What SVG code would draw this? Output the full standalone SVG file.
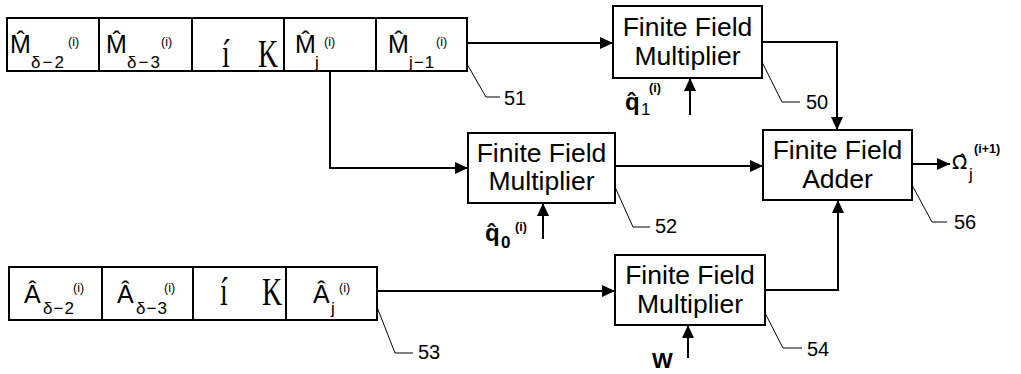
<svg xmlns="http://www.w3.org/2000/svg" width="1021" height="374" viewBox="0 0 1021 374">
<style>
.box{fill:#fff;stroke:#000;stroke-width:2}
.cell{fill:#fff;stroke:#000;stroke-width:2}
.wire{fill:none;stroke:#000;stroke-width:2}
.lead{fill:none;stroke:#000;stroke-width:1}
.t{font-family:"Liberation Sans",Arial,sans-serif;fill:#000}
.bt{font-family:"Liberation Sans",Arial,sans-serif;font-size:26.5px;text-anchor:middle;fill:#000}
.sym{font-family:"Liberation Sans",Arial,sans-serif;font-size:25px;fill:#000}
.sub{font-family:"Liberation Sans",Arial,sans-serif;font-size:17px;fill:#000}
.sup{font-family:"Liberation Sans",Arial,sans-serif;font-size:12.5px;fill:#000}
.ser{font-family:"Liberation Serif","Times New Roman",serif;font-size:40px;fill:#000}
.num{font-family:"Liberation Sans",Arial,sans-serif;font-size:20px;fill:#000}
</style>
<defs>
<marker id="ah" markerUnits="userSpaceOnUse" markerWidth="14" markerHeight="12" refX="13" refY="6" orient="auto">
<path d="M0,0 L13,6 L0,12 Z" fill="#000"/>
</marker>
</defs>

<g id="reg-M">
<rect class="cell" x="7" y="18" width="92" height="53"/>
<rect class="cell" x="99" y="18" width="93" height="53"/>
<rect class="cell" x="192" y="18" width="92" height="53"/>
<rect class="cell" x="284" y="18" width="92" height="53"/>
<rect class="cell" x="376" y="18" width="91" height="53"/>
<text class="sym" x="10" y="53">M̂</text><text class="sub" x="31" y="68" letter-spacing="2">δ−2</text><text class="sup" x="68" y="46">(i)</text>
<text class="sym" x="106" y="53">M̂</text><text class="sub" x="127" y="68" letter-spacing="2">δ−3</text><text class="sup" x="161" y="46">(i)</text>
<text class="ser" transform="translate(222,67) scale(0.7,1)">í</text>
<text class="ser" transform="translate(258,67) scale(0.7,1)">K</text>
<text class="sym" x="295" y="53">M̂</text><text class="sub" x="315" y="68">j</text><text class="sup" x="324" y="46">(i)</text>
<text class="sym" x="388" y="53">M̂</text><text class="sub" x="409" y="68" letter-spacing="1">j−1</text><text class="sup" x="436" y="46">(i)</text>
</g>

<g id="reg-A">
<rect class="cell" x="9" y="267" width="93" height="53"/>
<rect class="cell" x="102" y="267" width="91" height="53"/>
<rect class="cell" x="193" y="267" width="93" height="53"/>
<rect class="cell" x="286" y="267" width="91" height="53"/>
<text class="sym" x="24" y="303">Â</text><text class="sub" x="43" y="314" letter-spacing="1">δ−2</text><text class="sup" x="73" y="292">(i)</text>
<text class="sym" x="117" y="303">Â</text><text class="sub" x="136" y="314" letter-spacing="1">δ−3</text><text class="sup" x="164" y="292">(i)</text>
<text class="ser" transform="translate(220,305) scale(0.7,1)">í</text>
<text class="ser" transform="translate(262,305) scale(0.7,1)">K</text>
<text class="sym" x="313" y="303">Â</text><text class="sub" x="331" y="314">j</text><text class="sup" x="339" y="292">(i)</text>
</g>

<g id="mult50">
<rect class="box" x="613" y="6" width="149" height="72"/>
<text class="bt" x="687.5" y="36">Finite Field</text>
<text class="bt" x="687.5" y="65">Multiplier</text>
</g>

<g id="mult52">
<rect class="box" x="468" y="133" width="147" height="70"/>
<text class="bt" x="541.5" y="162">Finite Field</text>
<text class="bt" x="541.5" y="190">Multiplier</text>
</g>

<g id="adder56">
<rect class="box" x="763" y="130" width="149" height="70"/>
<text class="bt" x="837.5" y="159">Finite Field</text>
<text class="bt" x="837.5" y="188">Adder</text>
</g>

<g id="mult54">
<rect class="box" x="615" y="255" width="150" height="70"/>
<text class="bt" x="690" y="284">Finite Field</text>
<text class="bt" x="690" y="313">Multiplier</text>
</g>

<g id="connectors">
<path class="wire" d="M467,43 H613" marker-end="url(#ah)"/>
<path class="wire" d="M330,71 V168 H468" marker-end="url(#ah)"/>
<path class="wire" d="M762,42 H837 V130" marker-end="url(#ah)"/>
<path class="wire" d="M615,166 H763" marker-end="url(#ah)"/>
<path class="wire" d="M765,290 H838 V200" marker-end="url(#ah)"/>
<path class="wire" d="M377,291 H615" marker-end="url(#ah)"/>
<path class="wire" d="M690,115 V78" marker-end="url(#ah)"/>
<path class="wire" d="M543,239 V203" marker-end="url(#ah)"/>
<path class="wire" d="M688,358 V325" marker-end="url(#ah)"/>
<path class="wire" d="M912,164 H950" marker-end="url(#ah)"/>
<path class="lead" d="M467,64 L486,97 H500"/>
<path class="lead" d="M762,62 L782,102 H800"/>
<path class="lead" d="M615,187 L633,227 H650"/>
<path class="lead" d="M912,185 L932,222 H947"/>
<path class="lead" d="M377,307 L395,353 H413"/>
<path class="lead" d="M765,313 L783,348 H802"/>
</g>

<g id="labels">
<text class="num" x="504" y="105">51</text>
<text class="num" x="806" y="109">50</text>
<text class="num" x="655" y="233">52</text>
<text class="num" x="954" y="229">56</text>
<text class="num" x="418" y="359">53</text>
<text class="num" x="807" y="356">54</text>
<text class="t" x="625" y="110" font-size="24" font-weight="bold">q̂</text><text class="sub" x="641" y="115">1</text><text class="sup" x="649" y="92" font-weight="bold">(i)</text>
<text class="t" x="485" y="241" font-size="24" font-weight="bold">q̂</text><text class="sub" x="501" y="248" font-weight="bold">0</text><text class="sup" x="515" y="231" font-weight="bold">(i)</text>
<text class="t" x="652" y="368" font-size="22" font-weight="bold">W</text>
<text x="952" y="169" font-family="'DejaVu Sans',sans-serif" font-size="20" fill="#000">Ω̂</text><text class="sub" x="969" y="180" font-size="15px">j</text><text class="sup" x="974" y="153" font-weight="bold">(i+1)</text>
</g>
</svg>
